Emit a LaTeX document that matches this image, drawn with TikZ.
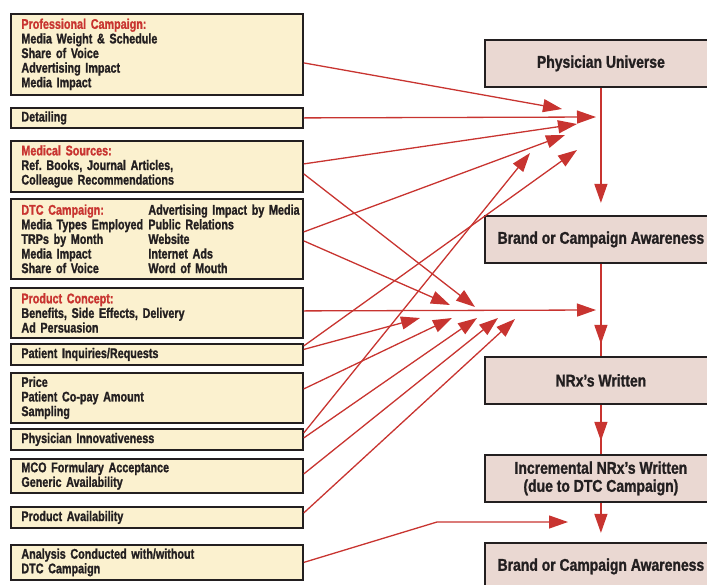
\documentclass[tikz,border=0pt]{standalone}
\usepackage{fontspec}
\newfontfamily\condfont{Liberation Sans}[FakeStretch=0.77, WordSpace=0.85, BoldFeatures={FakeBold=1.2}]
\newfontfamily\stagefont{Liberation Sans}[FakeStretch=0.82, BoldFeatures={FakeBold=1.2}]
\usepackage{xcolor}
\definecolor{arrowred}{RGB}{200, 52, 48}
\definecolor{creamfill}{RGB}{251, 241, 207}
\definecolor{stagefill}{RGB}{234, 216, 210}
\definecolor{boxline}{RGB}{35, 31, 32}
\usepackage{tikz}
\usetikzlibrary{positioning, arrows.meta, decorations.markings}
\newcommand{\dtcrow}[2]{\makebox[127pt][l]{#1}\makebox[0pt][l]{#2}}

\begin{document}
\frenchspacing
\begin{tikzpicture}[x=1pt, y=-1pt, >={Triangle[length=19pt, width=13pt]},
    factor/.style={draw=boxline, fill=creamfill, line width=1.8pt, text=boxline, minimum width=292pt, minimum height=#1, text width=271pt, inner xsep=10.5pt, inner ysep=0pt, align=left, font=\condfont\bfseries\fontsize{14}{14.6}\selectfont},
    stage/.style={draw=boxline, fill=stagefill, line width=1.8pt, text=boxline, minimum width=232pt, minimum height=47.2pt, align=center, font=\stagefont\bfseries\fontsize{17}{18}\selectfont},
    feed/.style={->, draw=arrowred, line width=1.3pt},
    tipat/.style={draw=arrowred, color=arrowred, line width=1.3pt, postaction={decorate}, decoration={markings, mark=at position -#1 with {\arrow{>}}}}]
    \useasboundingbox (0,0) rectangle (707,584);
    \clip (0,0) rectangle (707,584);

    % influencing factors
    \node [factor=81.2pt, anchor=north west] (prof) at (10,12.9) {\textcolor{arrowred}{Professional Campaign:}\\Media Weight \& Schedule\\Share of Voice\\Advertising Impact\\Media Impact};
    \node [factor=20.2pt, below=11pt of prof] (detail) {Detailing};
    \node [factor=51.2pt, below=11pt of detail] (medical) {\textcolor{arrowred}{Medical Sources:}\\Ref. Books, Journal Articles,\\Colleague Recommendations};
    \node [factor=80.2pt, below=5pt of medical] (dtc) {\dtcrow{\textcolor{arrowred}{DTC Campaign:}}{Advertising Impact by Media}\\\dtcrow{Media Types Employed}{Public Relations}\\\dtcrow{TRPs by Month}{Website}\\\dtcrow{Media Impact}{Internet Ads}\\\dtcrow{Share of Voice}{Word of Mouth}};
    \node [factor=50.2pt, below=7pt of dtc] (concept) {\textcolor{arrowred}{Product Concept:}\\Benefits, Side Effects, Delivery\\Ad Persuasion};
    \node [factor=21.2pt, below=4pt of concept] (inquiry) {Patient Inquiries/Requests};
    \node [factor=50.2pt, below=6pt of inquiry] (price) {Price\\Patient Co-pay Amount\\Sampling};
    \node [factor=21.2pt, below=4pt of price] (innov) {Physician Innovativeness};
    \node [factor=34.2pt, below=7pt of innov] (mco) {MCO Formulary Acceptance\\Generic Availability};
    \node [factor=21.2pt, below=12pt of mco] (avail) {Product Availability};
    \node [factor=35.2pt, below=15pt of avail] (analysis) {Analysis Conducted with/without\\DTC Campaign};

    % outcome chain
    \node [stage, anchor=north west] (univ) at (484,38.9) {Physician Universe};
    \node [stage, below=127pt of univ] (aware) {Brand or Campaign Awareness};
    \node [stage, below=92pt of aware] (nrx) {NRx’s Written};
    \node [stage, below=49pt of nrx] (incr) {Incremental NRx’s Written\\(due to DTC Campaign)};
    \node [stage, below=39pt of incr] (aware2) {Brand or Campaign Awareness};

    % arrow ends
    \coordinate (u1) at (562,109);
    \coordinate (u2) at (596,117);
    \coordinate (u3) at (577,124);
    \coordinate (u4) at (565,135);
    \coordinate (u5) at (530,153);
    \coordinate (u6) at (577,150);
    \coordinate (m1) at (450,305);
    \coordinate (m2) at (475,307);
    \coordinate (m3) at (596,310);
    \coordinate (c1) at (420,318);
    \coordinate (c2) at (452,318);
    \coordinate (c3) at (477,318);
    \coordinate (c4) at (498,318);
    \coordinate (c5) at (515,319);
    \coordinate (a1) at (437,522);
    \coordinate (a2) at (568,522);
    \coordinate (awarein) at ([yshift=12pt]aware.north);
    \coordinate (aware2in) at ([yshift=9pt]aware2.north);

    \draw [feed] ([yshift=-8.5pt]prof.east) -- (u1);
    \draw [feed] (detail.east) -- (u2);
    \draw [feed] ([yshift=2.5pt]medical.east) -- (u3);
    \draw [feed] ([yshift=-7.5pt]medical.east) -- (m2);
    \draw [feed] ([yshift=7pt]dtc.east) -- (u4);
    \draw [feed] ([yshift=-2pt]dtc.east) -- (m1);
    \draw [feed] ([yshift=2pt]concept.east) -- (m3);
    \draw [feed] ([yshift=8.5pt]inquiry.east) -- (u6);
    \draw [feed] ([yshift=5pt]inquiry.east) -- (c1);
    \draw [feed] ([yshift=9pt]price.east) -- (c2);
    \draw [feed] ([yshift=6.5pt]innov.east) -- (u5);
    \draw [feed] ([yshift=1.5pt]innov.east) -- (c3);
    \draw [feed] ([yshift=2pt]mco.east) -- (c4);
    \draw [feed] ([yshift=4.5pt]avail.east) -- (c5);
    \draw [feed] (analysis.east) -- (a1) -- (a2);

    \draw [feed] (univ) -- (awarein);
    \draw [tipat=12pt] (aware) -- (nrx);
    \draw [tipat=13pt] (nrx) -- (incr);
    \draw [feed] (incr) -- (aware2in);
\end{tikzpicture}
\end{document}
